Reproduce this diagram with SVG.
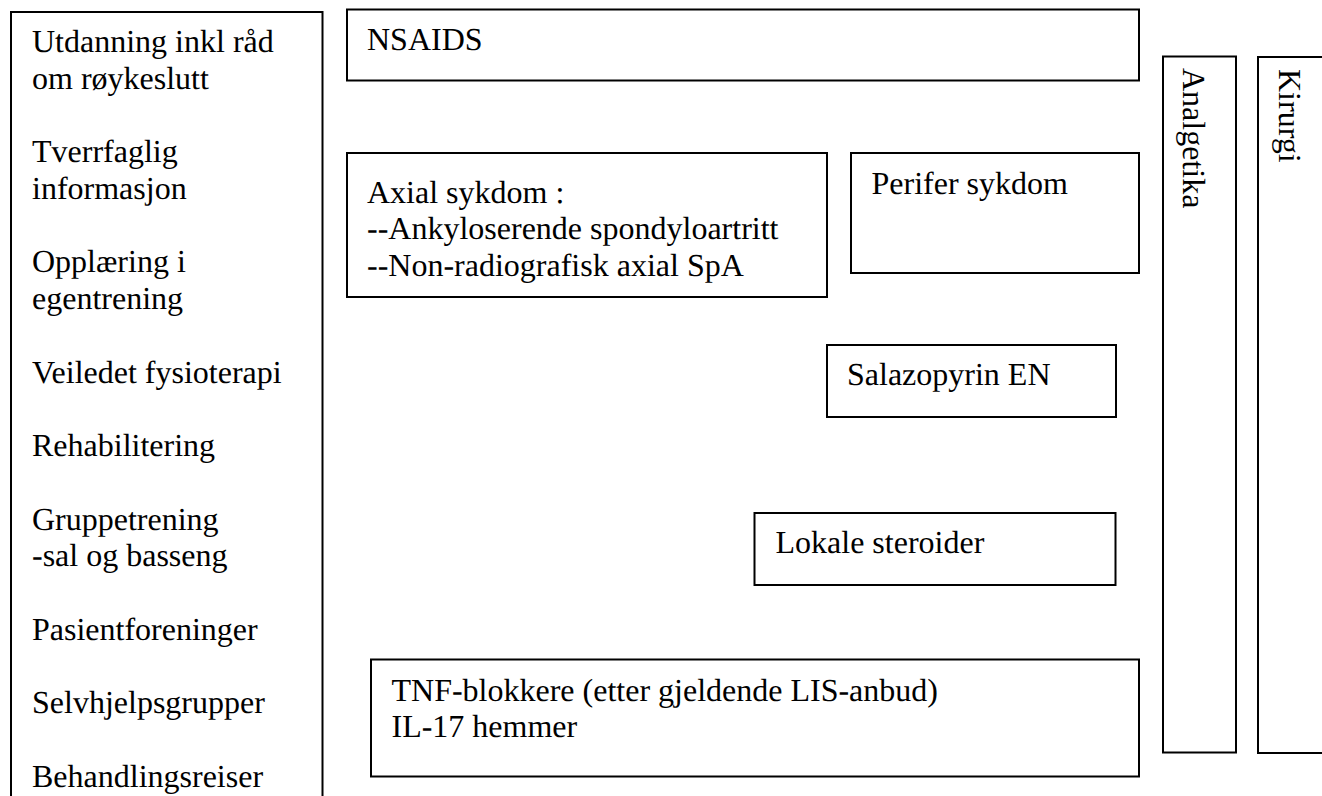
<svg xmlns="http://www.w3.org/2000/svg" width="1322" height="796" viewBox="0 0 1322 796" text-rendering="geometricPrecision">
  <style>
    .box { fill: #ffffff; stroke: #000000; stroke-width: 2; }
    .t { font-family: 'Liberation Serif', 'Times New Roman', serif; font-size: 32px; fill: #000000; }
  </style>
  <rect x="0" y="0" width="1322" height="796" fill="#ffffff"/>
  <g id="connectors"/>
  <g id="node-left">
    <rect class="box" x="11" y="12" width="311.5" height="800"/>
    <text class="t" x="32" y="52">Utdanning inkl råd</text>
    <text class="t" x="32" y="88.7">om røykeslutt</text>
    <text class="t" x="32" y="162.2">Tverrfaglig</text>
    <text class="t" x="32" y="198.9">informasjon</text>
    <text class="t" x="32" y="272.4">Opplæring i</text>
    <text class="t" x="32" y="309.1">egentrening</text>
    <text class="t" x="32" y="382.6">Veiledet fysioterapi</text>
    <text class="t" x="32" y="456">Rehabilitering</text>
    <text class="t" x="32" y="529.5">Gruppetrening</text>
    <text class="t" x="32" y="566.2">-sal og basseng</text>
    <text class="t" x="32" y="639.7">Pasientforeninger</text>
    <text class="t" x="32" y="713.2">Selvhjelpsgrupper</text>
    <text class="t" x="32" y="786.6">Behandlingsreiser</text>
  </g>
  <g id="node-nsaids">
    <rect class="box" x="347" y="9.5" width="792" height="71"/>
    <text class="t" x="367" y="50">NSAIDS</text>
  </g>
  <g id="node-axial">
    <rect class="box" x="347" y="153" width="480" height="144"/>
    <text class="t" x="367" y="202.5">Axial sykdom :</text>
    <text class="t" x="367" y="239.2">--Ankyloserende spondyloartritt</text>
    <text class="t" x="367" y="275.9">--Non-radiografisk axial SpA</text>
  </g>
  <g id="node-perifer">
    <rect class="box" x="851" y="153" width="288" height="120"/>
    <text class="t" x="871.5" y="194">Perifer sykdom</text>
  </g>
  <g id="node-salazopyrin">
    <rect class="box" x="827" y="345" width="289" height="72"/>
    <text class="t" x="847" y="385">Salazopyrin EN</text>
  </g>
  <g id="node-lokale">
    <rect class="box" x="754.5" y="513" width="361" height="72"/>
    <text class="t" x="775.5" y="553">Lokale steroider</text>
  </g>
  <g id="node-tnf">
    <rect class="box" x="371" y="659.5" width="768" height="117"/>
    <text class="t" x="391.5" y="700.5">TNF-blokkere (etter gjeldende LIS-anbud)</text>
    <text class="t" x="391.5" y="737.2">IL-17 hemmer</text>
  </g>
  <g id="node-analgetika">
    <rect class="box" x="1163" y="56.5" width="73" height="696"/>
    <text class="t" transform="translate(1183,68) rotate(90)">Analgetika</text>
  </g>
  <g id="node-kirurgi">
    <rect class="box" x="1258" y="57" width="73" height="696"/>
    <text class="t" transform="translate(1279,69) rotate(90)">Kirurgi</text>
  </g>
</svg>
